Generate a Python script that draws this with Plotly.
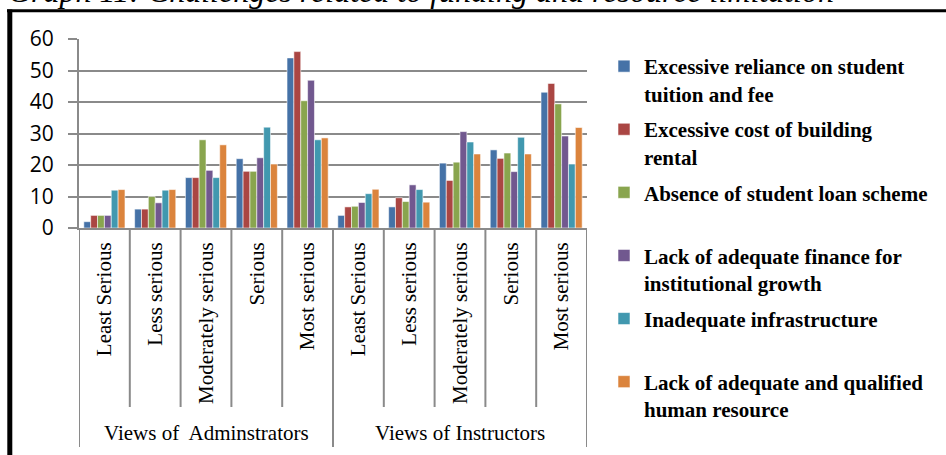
import plotly.graph_objects as go

# ---- data ----
groups = ["Views of\u00a0 Adminstrators", "Views of Instructors"]
levels = ["Least Serious", "Less serious", "Moderately serious", "Serious", "Most serious"]

series_names = [
    "Excessive reliance on student<br>tuition and fee",
    "Excessive cost of building<br>rental",
    "Absence of student loan scheme<br>\u00a0",
    "Lack of adequate finance for<br>institutional growth",
    "Inadequate infrastructure<br>\u00a0",
    "Lack of adequate and qualified<br>human resource",
]
# values: administrators (5) followed by instructors (5)
reliance_tuition = [2, 6, 16, 22, 54, 4, 6.7, 20.6, 24.8, 43.1]
building_rental = [4, 6, 16, 18, 56, 6.7, 9.6, 15.1, 22.1, 45.9]
no_student_loan = [4, 10, 28, 18, 40.4, 6.9, 8.4, 20.9, 23.8, 39.4]
lack_finance = [4, 8, 18.3, 22.3, 46.9, 8.1, 13.7, 30.6, 17.9, 29.2]
infrastructure = [12, 12, 16, 32, 28, 10.9, 12.2, 27.3, 28.8, 20.3]
human_resource = [12.2, 12.2, 26.4, 20.3, 28.6, 12.3, 8.2, 23.5, 23.5, 31.9]

series_values = [reliance_tuition, building_rental, no_student_loan,
                 lack_finance, infrastructure, human_resource]
colors = ["#4572A7", "#AA4643", "#89A54E", "#71588F", "#4198AF", "#DB843D"]

title_text = "Graph 11: Challenges related to funding and resource limitation"

# ---- geometry helpers (pixel -> paper) ----
W, H = 946, 455
L, R, T, B = 79, 587, 39, 228
PW, PH = R - L, B - T


def xp(px):
    return (px - L) / PW


def yp(py):
    return (B - py) / PH


cats = [lv for g in groups for lv in levels]
xpos = list(range(len(cats)))

fig = go.Figure()
for name, vals, col in zip(series_names, series_values, colors):
    fig.add_trace(go.Bar(
        x=xpos, y=vals, name=name, legendgroup=name,
        marker=dict(color=col, line=dict(color="rgba(255,255,255,0.55)", width=1)),
    ))

grey = "#8a8a8a"
shapes = []
# category dividers
n = len(levels)
for b in range(len(cats) + 1):
    bx = b - 0.5
    is_group = (b % n == 0)
    shapes.append(dict(type="line", xref="x", yref="paper", x0=bx, x1=bx,
                       y0=yp(228), y1=yp(447 if is_group else 407),
                       line=dict(color=grey, width=2)))
# frame
shapes.append(dict(type="line", xref="paper", yref="paper", x0=xp(7), x1=xp(960),
                   y0=yp(10.8), y1=yp(10.8), line=dict(color="black", width=3)))
shapes.append(dict(type="line", xref="paper", yref="paper", x0=xp(9.8), x1=xp(9.8),
                   y0=yp(9.5), y1=yp(470), line=dict(color="black", width=5)))

annotations = []
for gi, g in enumerate(groups):
    annotations.append(dict(text=g, xref="x", yref="paper", x=gi * n + (n - 1) / 2,
                            y=yp(433), xanchor="center", yanchor="middle", showarrow=False,
                            font=dict(family="Liberation Serif", size=21, color="black")))
annotations.append(dict(text="<i>" + title_text + "</i>", xref="paper", yref="paper",
                        x=xp(6), y=yp(11.5), xanchor="left", yanchor="bottom", showarrow=False,
                        font=dict(family="Liberation Serif", size=32, color="black")))

fig.update_layout(
    width=W, height=H,
    margin=dict(l=L, r=W - R, t=T, b=H - B, pad=0),
    paper_bgcolor="white", plot_bgcolor="white",
    barmode="group", bargap=0.19, bargroupgap=0,
    showlegend=True,
    legend=dict(x=xp(604), y=yp(46), xanchor="left", yanchor="top",
                font=dict(family="Liberation Serif", size=21, color="black", weight="bold"),
                tracegroupgap=5.5, valign="top", bgcolor="rgba(0,0,0,0)",
                maxheight=420),
    shapes=shapes, annotations=annotations,
)
fig.update_xaxes(range=[-0.5, len(cats) - 0.5], tickmode="array", tickvals=xpos, ticktext=cats,
                 tickangle=-90, ticks="", showline=True, linecolor=grey, linewidth=2,
                 showgrid=False, zeroline=False, ticklabelstandoff=4,
                 tickfont=dict(family="Liberation Serif", size=21, color="black"))
fig.update_yaxes(range=[0, 60], dtick=10, showgrid=True, gridcolor=grey, gridwidth=2,
                 showline=True, linecolor=grey, linewidth=2, ticks="outside", ticklen=9,
                 tickcolor=grey, tickwidth=2, zeroline=False, ticklabelstandoff=10,
                 tickfont=dict(family="Open Sans", size=21, color="black"))

fig.write_html("out.html", config={"displayModeBar": False},
               post_script="document.body.style.margin='0px';")
